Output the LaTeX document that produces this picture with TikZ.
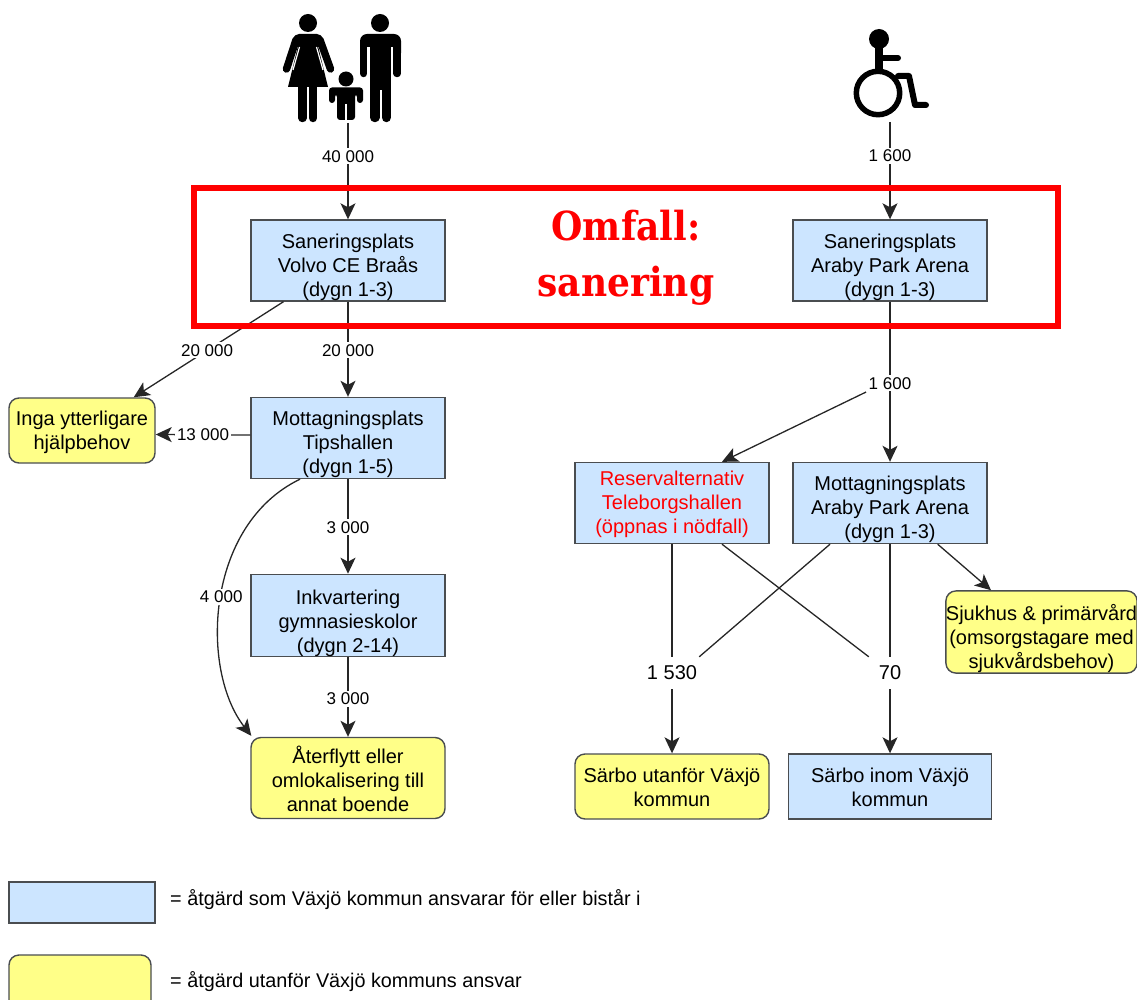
\documentclass[tikz,border=0pt]{standalone}
\usepackage{fontspec}
\setmainfont{Liberation Sans}
\newfontfamily\omfallfont{DejaVu Serif Condensed}
\usetikzlibrary{arrows.meta}
\definecolor{boxblue}{HTML}{CCE5FF}
\definecolor{boxyellow}{HTML}{FFFF88}
\definecolor{boxline}{HTML}{4A4D50}
\newcommand{\drop}[1]{\rule{0pt}{#1}}
\tikzset{
	every node/.append style={align=center,font=\fontsize{20}{24}\selectfont},
	bluebox/.style={draw=boxline,line width=1.4pt,fill=boxblue,minimum width=194pt,minimum height=81pt,inner sep=0pt},
	yellowbox/.style={draw=boxline,line width=1.4pt,fill=boxyellow,rounded corners=10pt,minimum width=194pt,minimum height=81pt,inner sep=0pt},
	conn/.style={draw=black!85,line width=1.3pt,-{Stealth[length=16pt,width=15pt,inset=4pt]}},
	plain/.style={draw=black!85,line width=1.3pt},
	lbl/.style={fill=white,font=\fontsize{17}{20}\selectfont,inner sep=2pt},
	biglbl/.style={fill=white,minimum height=32pt,inner sep=2pt},
	legendtxt/.style={anchor=west,inner sep=0pt,font=\fontsize{19.8}{24}\selectfont},
}

\begin{document}
\begin{tikzpicture}[x=1pt,y=-1pt]
	\useasboundingbox (0,0) rectangle (1137,1000);
	\clip (0,0) rectangle (1137,1000);

	% left column
	\node[bluebox] (sanA) at (348,260.5) {\drop{28pt}Saneringsplats\\Volvo CE Braås\\(dygn 1-3)};
	\node[bluebox] (mottA) at (348,438) {\drop{28pt}Mottagningsplats\\Tipshallen\\(dygn 1-5)};
	\node[yellowbox,minimum width=146pt,minimum height=65pt] (inga) at (82,430.5) {\drop{19pt}Inga ytterligare\\hjälpbehov};
	\node[bluebox] (inkv) at (348,615.5) {\drop{30pt}Inkvartering\\gymnasieskolor\\(dygn 2-14)};
	\node[yellowbox] (ater) at (348,778) {\drop{20pt}Återflytt eller\\omlokalisering till\\annat boende};

	% right column
	\node[bluebox] (sanB) at (890,260.5) {\drop{28pt}Saneringsplats\\Araby Park Arena\\(dygn 1-3)};
	\node[bluebox] (mottB) at (890,503) {\drop{28pt}Mottagningsplats\\Araby Park Arena\\(dygn 1-3)};
	\node[bluebox,text=red] (res) at (672,503) {\drop{18pt}Reservalternativ\\Teleborgshallen\\(öppnas i nödfall)};
	\node[yellowbox,minimum width=191pt,minimum height=80pt] (sjuk) at (1041.5,632) {\drop{30pt}Sjukhus \& primärvård\\(omsorgstagare med\\sjukvårdsbehov)};
	\node[yellowbox,minimum height=65pt] (sarU) at (672,786.5) {\drop{17pt}Särbo utanför Växjö\\kommun};
	\node[bluebox,minimum width=203pt,minimum height=65pt] (sarI) at (890,786.5) {\drop{17pt}Särbo inom Växjö\\kommun};

	% legend
	\node[bluebox,minimum width=146pt,minimum height=41pt] (legblue) at (82,902.5) {};
	\node[yellowbox,minimum width=142pt,minimum height=56pt] (legyellow) at (80,983) {};
	\node[legendtxt] (legtxtA) at (170,900) {= åtgärd som Växjö kommun ansvarar för eller bistår i};
	\node[legendtxt] (legtxtB) at (170,982) {= åtgärd utanför Växjö kommuns ansvar};

	% family
	\fill (308,23) circle (9);
	\fill[rounded corners=5pt] (291,47) -- (294,34) -- (322,34) -- (325,47) -- cycle;
	\fill (299,42) -- (317,42) -- (328,87) -- (288,87) -- cycle;
	\draw[line width=7.5pt,line cap=round] (296,40) -- (286.5,69);
	\draw[line width=7.5pt,line cap=round] (320,40) -- (330.5,69);
	\draw[white,line width=1.2pt] (299.5,47) -- (293,70);
	\draw[white,line width=1.2pt] (316.5,47) -- (323,70);
	\draw[line width=8.5pt,line cap=round] (302.5,86) -- (302.5,118);
	\draw[line width=8.5pt,line cap=round] (313,86) -- (313,118);
	\fill (380,23) circle (9);
	\fill[rounded corners=7pt] (360,60) -- (360,34) -- (401,34) -- (401,60) -- cycle;
	\fill[white] (367.3,47) rectangle (393.3,62);
	\fill (370,46) rectangle (391,90);
	\draw[line width=7.5pt,line cap=round] (363.7,50) -- (363.7,73.5);
	\draw[line width=7.5pt,line cap=round] (397.2,50) -- (397.2,73.5);
	\draw[line width=9.5pt,line cap=round] (374.75,85) -- (374.75,117.5);
	\draw[line width=9.5pt,line cap=round] (386.25,85) -- (386.25,117.5);
	\fill (346,79) circle (7.5);
	\fill[rounded corners=3pt] (329,103) -- (329,87.5) -- (363,87.5) -- (363,103) -- (357,103) -- (357,94) -- (355,94) -- (355,120) -- (337,120) -- (337,94) -- (335,94) -- (335,103) -- cycle;
	\draw[white,line width=1.4pt] (346,104) -- (346,120);

	% wheelchair
	\fill (879,39) circle (10);
	\draw[line width=7.5pt] (879,43) -- (879,73);
	\draw[line width=6pt,line cap=round] (879,58) -- (898,58);
	\draw[line width=5.5pt] (878,93) circle (21.7);
	\draw[line width=6pt,line cap=round,line join=round] (898,76) -- (909,76) -- (915,105) -- (926,105);

	\coordinate (famfoot) at (348,123);
	\coordinate (chairfoot) at (890,122);

	% connectors
	\draw[conn] (famfoot) -- node[lbl,pos=.345] (lab40k) {40 000} (sanA);
	\draw[conn] (chairfoot) -- node[lbl,pos=.35] (lab16a) {1 600} (sanB);
	\draw[conn] (sanA) -- node[lbl,pos=.51] (lab20b) {20 000} (mottA);
	\draw[conn] (sanA) -- node[lbl,pos=.51] (lab20a) {20 000} ([xshift=-22pt]inga.north east);
	\draw[conn] ([yshift=3pt]mottA.west) -- node[lbl,pos=.5] (lab13k) {13 000} ([yshift=-4pt]inga.east);
	\draw[conn] (mottA) -- node[lbl,pos=.51] (lab3a) {3 000} (inkv);
	\draw[conn] (inkv) -- node[lbl,pos=.52] (lab3b) {3 000} (ater);
	\draw[conn] ([xshift=-48pt]mottA.south) .. controls (205,525) and (200,670) .. ([xshift=1pt,yshift=1pt]ater.north west) node[lbl,pos=.49] (lab4k) {4 000};
	\draw[conn] (sanB) -- node[lbl,pos=.51] (lab16b) {1 600} (mottB);
	\draw[conn] (lab16b.south west) -- ([xshift=50pt]res.north);
	\draw[conn] (mottB) -- (sjuk.north -| 991,0);

	\node[biglbl] (lab1530) at (672,673) {1 530};
	\node[biglbl,minimum width=42pt] (lab70) at (890,673) {70};
	\draw[plain] (res) -- (lab1530);
	\draw[plain] (mottB) -- (lab70);
	\draw[plain] ([xshift=-60pt]mottB.south) -- (lab1530.north east);
	\draw[plain] ([xshift=50pt]res.south) -- (lab70.north west);
	\draw[conn] (lab1530) -- (sarU);
	\draw[conn] (lab70) -- (sarI);

	% red frame
	\node[draw=red,line width=6pt,minimum width=864pt,minimum height=138pt,inner sep=0pt] (frame) at (626,257) {};
	\node[text=red,font=\omfallfont\bfseries\fontsize{40}{56}\selectfont] (omfall) at (626,258) {Omfall:\\sanering};
\end{tikzpicture}
\end{document}
